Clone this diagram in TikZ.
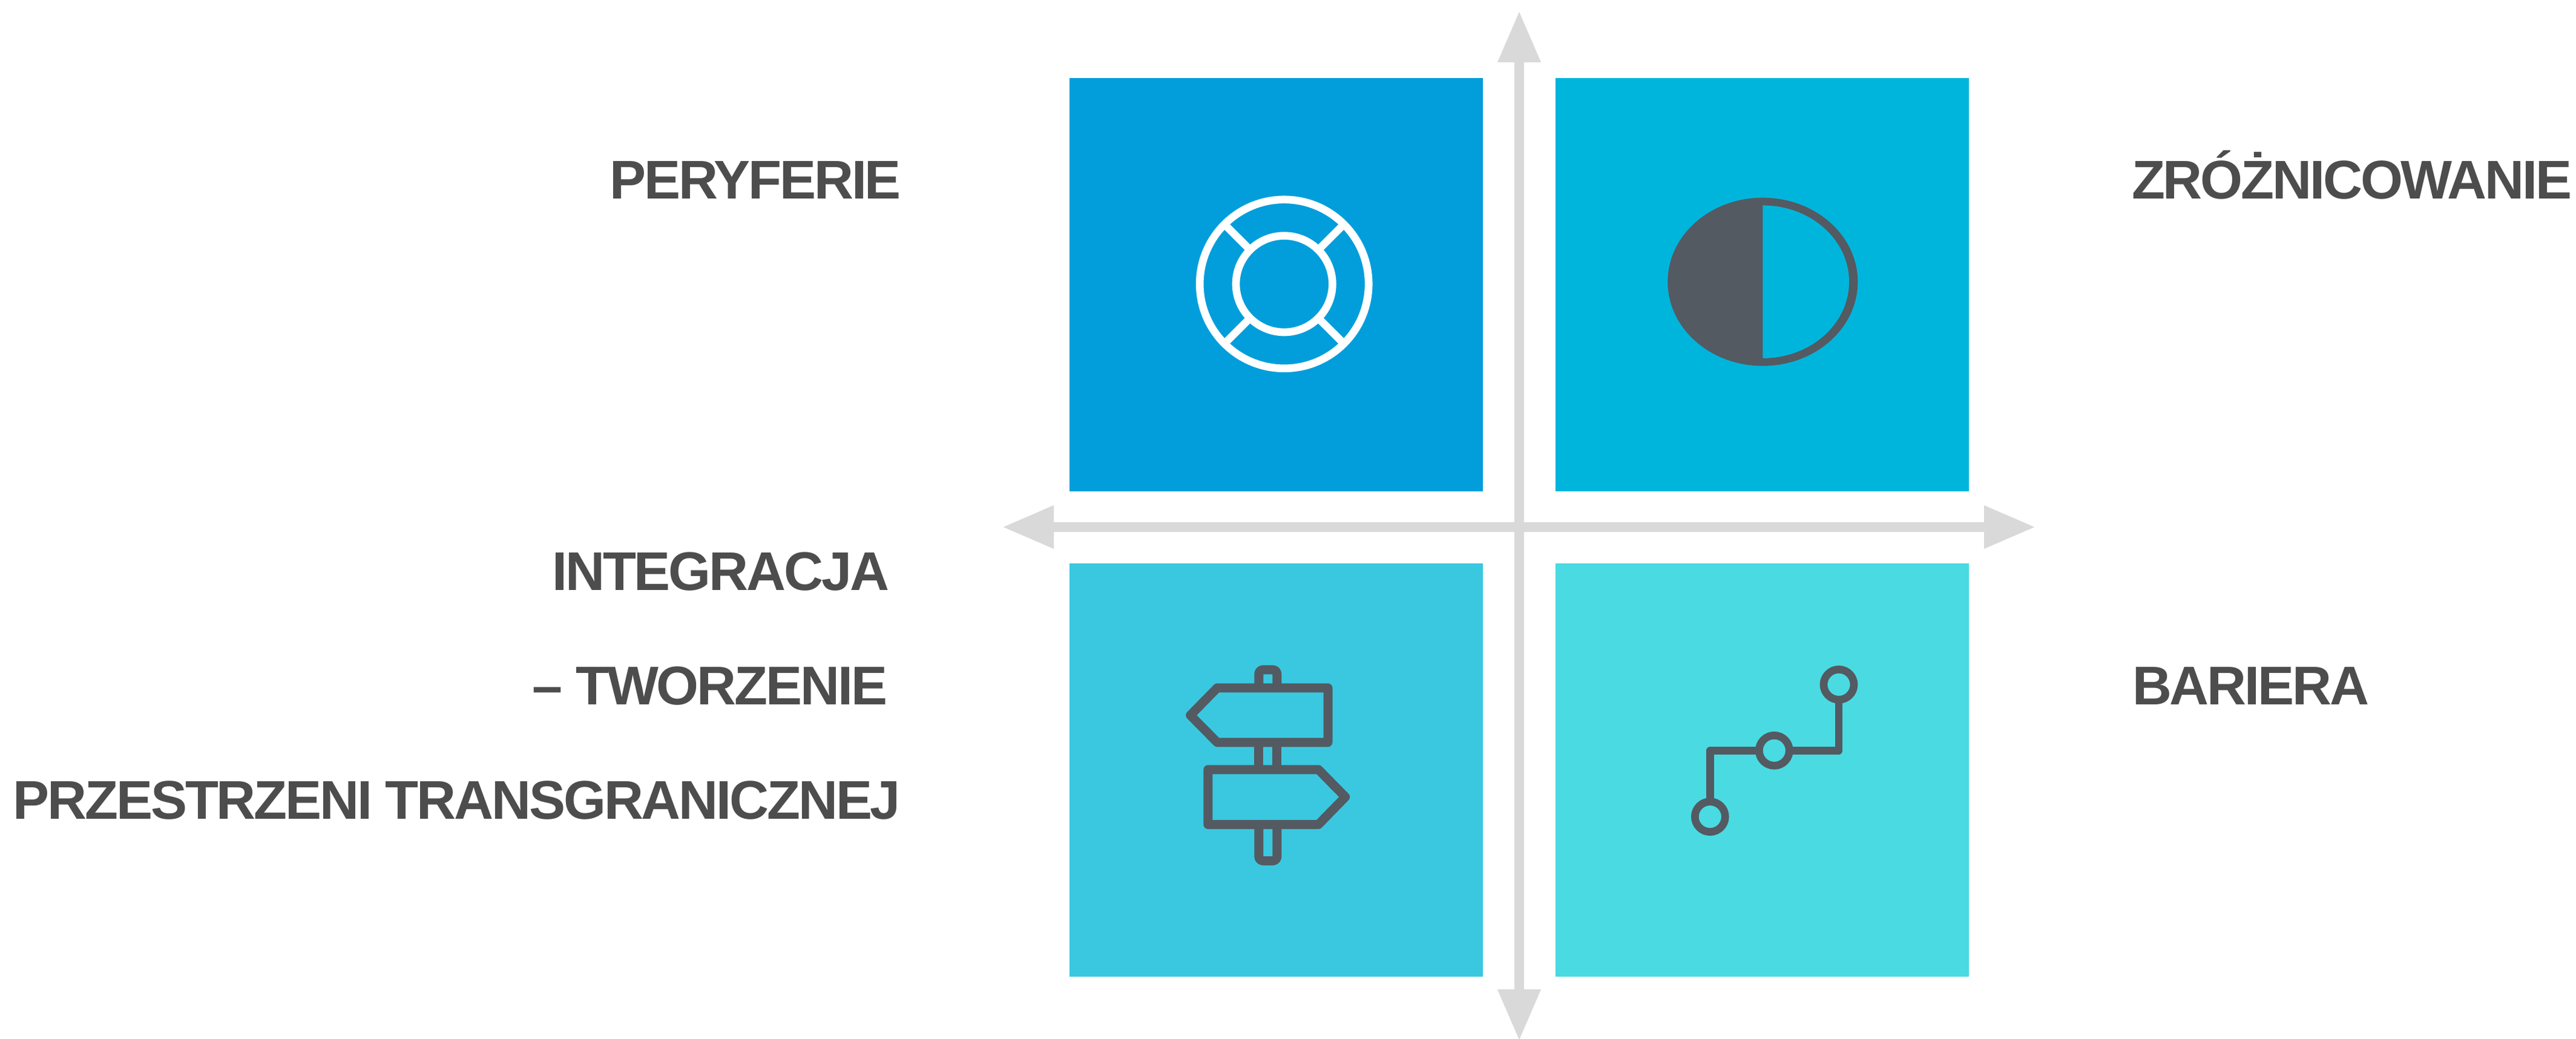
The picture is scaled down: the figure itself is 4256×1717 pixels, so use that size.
\documentclass[tikz,border=0pt]{standalone}
\usepackage{fontspec}
\setmainfont[LetterSpace=-3.5]{Liberation Sans}
\usetikzlibrary{arrows.meta}
\definecolor{tileA}{HTML}{029EDB}
\definecolor{tileB}{HTML}{00B5DC}
\definecolor{tileC}{HTML}{3AC8E0}
\definecolor{tileD}{HTML}{4ADAE2}
\definecolor{axisgrey}{HTML}{D9D9D9}
\definecolor{labelgrey}{HTML}{4D4D4D}
\definecolor{icondark}{HTML}{545A61}
\tikzset{
  tile/.style={draw=none,minimum width=683.4pt*0.2,minimum height=683.4pt*0.2,inner sep=0pt,outer sep=0pt},
  axisline/.style={draw=axisgrey,line width=3.3pt,{Triangle[length=17pt,width=13.4pt,fill=axisgrey]}-{Triangle[length=17pt,width=13.4pt,fill=axisgrey]}},
  axislabel/.style={inner sep=0pt,outer sep=0pt,text=labelgrey,font=\fontsize{18pt}{20pt}\selectfont\bfseries},
  ringw/.style={draw=white,line width=2.54pt},
  icond/.style={draw=icondark,line width=3pt,line join=round},
  postcap/.style={icond,rounded corners=1.4pt},
  routel/.style={draw=icondark,line width=2.54pt,line join=round},
}
\begin{document}
\begin{tikzpicture}[x=0.2pt,y=-0.2pt]
\useasboundingbox (0,0) rectangle (4256,1717);
% tiles
\node[tile,fill=tileA,anchor=north west] (ta) at (1767,129) {};
\node[tile,fill=tileB,anchor=north west] (tb) at (2570,129) {};
\node[tile,fill=tileC,anchor=north west] (tc) at (1767,931) {};
\node[tile,fill=tileD,anchor=north west] (td) at (2570,931) {};
% axes
\coordinate (axL) at (1656,871);
\coordinate (axR) at (3363,871);
\coordinate (axT) at (2510,18);
\coordinate (axB) at (2510,1720);
\draw[axisline] (axT) -- (axB);
\draw[axisline] (axL) -- (axR);
% lifebuoy
\coordinate (lb) at (2121.7,469.3);
\draw[ringw] (lb) circle[radius=139.5];
\draw[ringw] (lb) circle[radius=79.7];
\foreach \a in {45,135,225,315}
  \draw[ringw] (lb) ++(\a:79.7) -- ++(\a:60);
% half circle
\coordinate (hc) at (2912.3,465.7);
\fill[icondark] (hc) ellipse[x radius=157,y radius=139];
\fill[tileB] (2912.3,339.4) arc[start angle=-90,end angle=90,x radius=142.7,y radius=126.3] -- cycle;
% signpost
\draw[postcap] (2079.8,1136.8) -- (2079.8,1106.8) -- (2109.8,1106.8) -- (2109.8,1136.8);
\draw[icond] (2079.8,1226.8) -- (2079.8,1271.8);
\draw[icond] (2109.8,1226.8) -- (2109.8,1271.8);
\draw[postcap] (2079.8,1362.5) -- (2079.8,1422.5) -- (2109.8,1422.5) -- (2109.8,1362.5);
\draw[icond] (2011,1136.8) -- (2194,1136.8) -- (2194,1226.8) -- (2011,1226.8) -- (1966.7,1182) -- cycle;
\draw[icond] (1995.8,1271.8) -- (2178.3,1271.8) -- (2222.7,1317) -- (2178.3,1362.5) -- (1995.8,1362.5) -- cycle;
% route
\coordinate (r1) at (3038,1131.3);
\coordinate (r2) at (2931.3,1240.3);
\coordinate (r3) at (2825.3,1349.7);
\draw[routel] (2825.3,1324.7) -- (2825.3,1240.3) -- (2906.3,1240.3);
\draw[routel] (2956.3,1240.3) -- (3038,1240.3) -- (3038,1156.3);
\draw[routel] (r1) circle[radius=25];
\draw[routel] (r2) circle[radius=25];
\draw[routel] (r3) circle[radius=25];
% labels
\node[axislabel,anchor=base east] (l1) at (1489,328.3) {PERYFERIE};
\node[axislabel,anchor=base west] (l2) at (3522,328.3) {ZRÓŻNICOWANIE};
\node[axislabel,anchor=base east] (l3) at (1469,975.7) {INTEGRACJA};
\node[axislabel,anchor=base east] (l4) at (1466,1164.3) {– TWORZENIE};
\node[axislabel,anchor=base east] (l5) at (1488,1353.7) {PRZESTRZENI TRANSGRANICZNEJ};
\node[axislabel,anchor=base west] (l6) at (3523,1164.3) {BARIERA};
\end{tikzpicture}
\end{document}
